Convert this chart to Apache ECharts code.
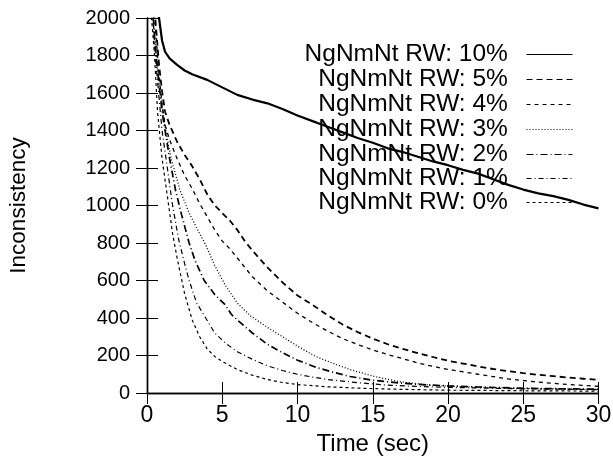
<!DOCTYPE html>
<html><head><meta charset="utf-8">
<script src="https://cdn.jsdelivr.net/npm/echarts@6/dist/echarts.min.js"></script>
<style>html,body{margin:0;padding:0;background:#fff}#c{width:613px;height:456px}</style>
</head><body><div id="c"></div>
<script>
// Data (time in sec, inconsistency)
const names = ['NgNmNt RW: 10%','NgNmNt RW: 5%','NgNmNt RW: 4%','NgNmNt RW: 3%','NgNmNt RW: 2%','NgNmNt RW: 1%','NgNmNt RW: 0%'];

const t10 = [0.5,0.8,1.0,1.2,1.5,2,2.5,3,4,5,6,7,8,9,10,11,12,13,14,15,16,17,18,19,20,21,22,23,24,25,26,27,28,29,30];
const v10 = [2150,2000,1880,1820,1785,1750,1720,1700,1670,1630,1590,1565,1545,1515,1480,1450,1420,1390,1360,1335,1305,1285,1260,1235,1215,1190,1170,1140,1110,1085,1065,1050,1030,1005,985];

const t5 = [0.4,0.6,0.8,1.0,1.2,1.5,2,2.5,3,3.5,4,4.5,5,5.5,6,6.5,7,8,9,10,11,12,13,14,15,16,17,18,19,20,21,22,23,24,25,26,27,28,29,30];
const v5 = [2150,1950,1750,1610,1500,1430,1340,1270,1210,1140,1060,1000,960,920,870,810,760,670,590,520,470,415,365,325,290,260,235,212,192,172,157,142,128,116,106,97,90,82,76,70];

const t4 = [0.4,0.6,0.8,1.0,1.2,1.5,2,2.5,3,3.5,4,4.5,5,5.5,6,7,8,9,10,11,12,13,14,15,16,17,18,19,20,22,24,26,28,30];
const v4 = [2150,1900,1700,1540,1430,1350,1250,1160,1090,1010,940,870,810,770,720,620,545,485,425,375,330,290,258,230,205,183,160,142,126,100,75,58,45,36];

const t3 = [0.3,0.5,0.8,1.2,1.6,2.2,2.8,3.3,3.9,4.5,5.2,6,6.9,8,9,10,11.2,12.3,13.5,15,16.8,18.8,20,22,25,30];
const v3 = [2150,1900,1650,1420,1250,1080,960,880,790,680,575,480,410,350,300,250,195,160,125,90,60,42,37,31,25,20];

const t2 = [0.3,0.5,0.7,1.0,1.5,1.9,2.3,2.8,3.2,3.8,4.5,5.2,5.6,6,7,8,9,10,11.3,12.5,13.5,15,16.8,18,20,22,25,30];
const v2 = [2150,1900,1720,1500,1250,1080,950,800,705,600,525,470,420,390,320,260,215,175,135,108,88,68,53,46,38,32,25,20];

const t1 = [0.3,0.6,1.0,1.3,1.7,2.1,2.5,2.8,3.3,3.9,4.5,5.2,6,7,8,9,10,11,12,14,16,18,20,25,30];
const v1 = [2100,1750,1400,1230,1000,820,690,600,480,400,320,267,220,180,145,120,100,85,72,55,42,35,30,22,18];

const t0 = [0.2,0.5,0.7,1.0,1.3,1.7,2.0,2.5,3.0,3.5,4.0,4.5,5,6,7,8,9,10,12,14,16,18,20,25,30];
const v0 = [2100,1800,1500,1250,1080,850,720,530,390,300,235,195,168,125,95,72,56,45,33,26,21,18,15,12,10];

const xTicks = [0,5,10,15,20,25,30];
const yTicks = [0,200,400,600,800,1000,1200,1400,1600,1800,2000];

const times = [t10,t5,t4,t3,t2,t1,t0];
const vals = [v10,v5,v4,v3,v2,v1,v0];
const dashes = ['solid',[6,4],[4,4],[1,2],[7,3,1,3],[5,3,1,3],[3,3]];
const widths = [2.2,1.8,1.3,1.3,1.7,1.2,1.2];

const FONT = 'Liberation Sans';
const chart = echarts.init(document.getElementById('c'), null, {renderer:'canvas'});

const series = names.map((n,i)=>({
  name:n, type:'line', symbol:'none', clip:true, silent:true,
  data: times[i].map((t,j)=>[t, vals[i][j]]),
  lineStyle:{color:'#000', width:widths[i], type:dashes[i]},
  itemStyle:{color:'#000'}
}));

const rowY = [55,80,105,130,155,179,203];
const legends = names.map((n,i)=>({
  data:[n], right:40, top:rowY[i]-13, orient:'vertical', align:'right',
  itemWidth:46, itemHeight:14, padding:0,
  formatter: s => s + '  ',
  textStyle:{fontFamily:FONT, fontSize:24.5, color:'#000'},
  itemStyle:{opacity:0},
  lineStyle:{width:1, opacity:1}, selectedMode:false
}));

const tickStyle = {show:true, inside:true, length:11, lineStyle:{color:'#000', width:1}};
chart.setOption({
  animation:false,
  backgroundColor:'#fff',
  grid:{left:147, right:14.5, top:18, bottom:63, show:false, outerBoundsMode:'none', containLabel:false},
  legend: legends,
  xAxis:[{
    type:'value', min:0, max:30, interval:5, position:'bottom',
    axisLine:{show:true, lineStyle:{color:'#000', width:1.4}},
    axisTick:tickStyle, splitLine:{show:false},
    axisLabel:{fontFamily:FONT, fontSize:23, color:'#000', margin:11,
      formatter: v => xTicks.includes(v) ? String(v) : ''},
    name:'Time (sec)', nameLocation:'middle', nameGap:31,
    nameTextStyle:{fontFamily:FONT, fontSize:24, color:'#000'}
  },{
    type:'value', min:0, max:30, interval:5, position:'top',
    axisLine:{show:true, lineStyle:{color:'#000', width:1.4}},
    axisTick:tickStyle, axisLabel:{show:false}, splitLine:{show:false}
  }],
  yAxis:[{
    type:'value', min:0, max:2000, interval:200, position:'left',
    axisLine:{show:true, lineStyle:{color:'#000', width:1.4}},
    axisTick:tickStyle, splitLine:{show:false},
    axisLabel:{fontFamily:FONT, fontSize:20, color:'#000', margin:17,
      formatter: v => yTicks.includes(v) ? String(v) : ''},
    name:'Inconsistency', nameLocation:'middle', nameGap:117,
    nameTextStyle:{fontFamily:FONT, fontSize:22.5, color:'#000'}
  },{
    type:'value', min:0, max:2000, interval:200, position:'right',
    axisLine:{show:true, lineStyle:{color:'#000', width:1.4}},
    axisTick:tickStyle, axisLabel:{show:false}, splitLine:{show:false}
  }],
  series: series
});
</script></body></html>
